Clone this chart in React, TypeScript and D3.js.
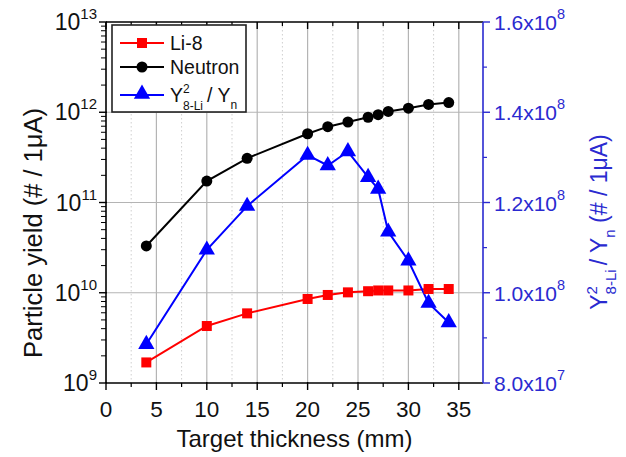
import React from "react";
import * as d3 from "d3";

// target thickness (mm)
const thickness = [4, 10, 14, 20, 22, 24, 26, 27, 28, 30, 32, 34];
// particle yield per 1 uA
const li8Yield = [1.69e9, 4.28e9, 5.91e9, 8.53e9, 9.45e9, 1.01e10, 1.04e10, 1.06e10, 1.06e10, 1.06e10, 1.1e10, 1.1e10];
const neutronYield = [3.3e10, 1.73e11, 3.09e11, 5.78e11, 6.92e11, 7.8e11, 8.8e11, 9.4e11, 1.02e12, 1.11e12, 1.22e12, 1.28e12];
// Y^2(8-Li) / Yn  (right axis)
const ratio = [0.886e8, 1.095e8, 1.192e8, 1.305e8, 1.282e8, 1.313e8, 1.256e8, 1.23e8, 1.135e8, 1.071e8, 0.977e8, 0.934e8];

const xTicks = [0, 5, 10, 15, 20, 25, 30, 35];
const xMinor = [2.5, 7.5, 12.5, 17.5, 22.5, 27.5, 32.5];
const leftExp = [9, 10, 11, 12, 13];
const rightTicks = [0.8e8, 1.0e8, 1.2e8, 1.4e8, 1.6e8];
const rightMinor = [0.9e8, 1.1e8, 1.3e8, 1.5e8];
const rightLabels = ["8.0x10", "1.0x10", "1.2x10", "1.4x10", "1.6x10"];
const rightLabelExp = ["7", "8", "8", "8", "8"];

const W = 626;
const H = 457;
const m = { left: 106, right: 483, top: 22, bottom: 383 };
const FONT = "'Liberation Sans', Arial, sans-serif";
const BLUE = "#0000ff";
const AXBLUE = "#2a2ad0";

export default function App() {
  const x = d3.scaleLinear().domain([0, 37.4]).range([m.left, m.right]);
  const yL = d3.scaleLog().domain([1e9, 1e13]).range([m.bottom, m.top]);
  const yR = d3.scaleLinear().domain([0.8e8, 1.6e8]).range([m.bottom, m.top]);

  const li8 = thickness.map((t, i) => [t, li8Yield[i]] as [number, number]);
  const neu = thickness.map((t, i) => [t, neutronYield[i]] as [number, number]);
  const rat = thickness.map((t, i) => [t, ratio[i]] as [number, number]);

  const lineL = d3.line<[number, number]>().x(d => x(d[0])).y(d => yL(d[1]));
  const lineR = d3.line<[number, number]>().x(d => x(d[0])).y(d => yR(d[1]));

  const leftMinor: number[] = [];
  for (let e = 9; e < 13; e++) for (let k = 2; k <= 9; k++) leftMinor.push(k * Math.pow(10, e));

  const tri = d3.symbol().type(d3.symbolTriangle).size(115)() as string;

  return (
    <svg width={W} height={H} style={{ position: "absolute", left: 0, top: 0, background: "#fff" }} fontFamily={FONT}>
      {/* grid */}
      {xMinor.map(t => (
        <line key={"gm" + t} x1={x(t)} x2={x(t)} y1={m.top} y2={m.bottom} stroke="#cfcfcf" strokeWidth={1} strokeDasharray="1.5,2.5" />
      ))}
      {xTicks.slice(1).map(t => (
        <line key={"gx" + t} x1={x(t)} x2={x(t)} y1={m.top} y2={m.bottom} stroke="#b4b4b4" strokeWidth={1.2} />
      ))}
      {leftExp.slice(1, 4).map(e => (
        <line key={"gy" + e} x1={m.left} x2={m.right} y1={yL(Math.pow(10, e))} y2={yL(Math.pow(10, e))} stroke="#b4b4b4" strokeWidth={1.2} />
      ))}

      {/* axes frame */}
      <line x1={m.left} x2={m.right} y1={m.top} y2={m.top} stroke="#000" strokeWidth={1.6} />
      <line x1={m.left} x2={m.right} y1={m.bottom} y2={m.bottom} stroke="#000" strokeWidth={1.6} />
      <line x1={m.left} x2={m.left} y1={m.top} y2={m.bottom} stroke="#000" strokeWidth={1.6} />
      <line x1={m.right} x2={m.right} y1={m.top} y2={m.bottom} stroke={AXBLUE} strokeWidth={1.6} />

      {/* bottom / top ticks */}
      {xTicks.map(t => (
        <g key={"xt" + t}>
          <line x1={x(t)} x2={x(t)} y1={m.bottom - 1} y2={m.bottom + 7} stroke="#000" strokeWidth={1.4} />
          <line x1={x(t)} x2={x(t)} y1={m.top} y2={m.top + 7} stroke="#000" strokeWidth={1.4} />
          <text x={x(t)} y={m.bottom + 34} textAnchor="middle" fontSize={22.5} fill="#111">{t}</text>
        </g>
      ))}
      {xMinor.map(t => (
        <g key={"xm" + t}>
          <line x1={x(t)} x2={x(t)} y1={m.bottom} y2={m.bottom + 4} stroke="#000" strokeWidth={1.2} />
          <line x1={x(t)} x2={x(t)} y1={m.top} y2={m.top + 4} stroke="#000" strokeWidth={1.2} />
        </g>
      ))}

      {/* left ticks */}
      {leftExp.map(e => (
        <g key={"yl" + e}>
          <line x1={m.left - 7} x2={m.left + 1} y1={yL(Math.pow(10, e))} y2={yL(Math.pow(10, e))} stroke="#000" strokeWidth={1.4} />
          <text x={m.left - 9} y={yL(Math.pow(10, e)) + 8} textAnchor="end" fontSize={23} fill="#111">
            10<tspan dy={-11} fontSize={15}>{e}</tspan>
          </text>
        </g>
      ))}
      {leftMinor.map(v => (
        <line key={"ylm" + v} x1={m.left - 5} x2={m.left} y1={yL(v)} y2={yL(v)} stroke="#000" strokeWidth={1} />
      ))}

      {/* right ticks */}
      {rightTicks.map((v, i) => (
        <g key={"yr" + v}>
          <line x1={m.right} x2={m.right + 7} y1={yR(v)} y2={yR(v)} stroke={AXBLUE} strokeWidth={1.4} />
          <text x={m.right + 11} y={yR(v) + 8} fontSize={21} fill={AXBLUE}>
            {rightLabels[i]}<tspan dy={-11} fontSize={14.5}>{rightLabelExp[i]}</tspan>
          </text>
        </g>
      ))}
      {rightMinor.map(v => (
        <line key={"yrm" + v} x1={m.right} x2={m.right + 4} y1={yR(v)} y2={yR(v)} stroke={AXBLUE} strokeWidth={1.2} />
      ))}

      {/* series */}
      <path d={lineL(li8) || ""} fill="none" stroke="#ff0000" strokeWidth={2} />
      <path d={lineL(neu) || ""} fill="none" stroke="#000" strokeWidth={2} />
      <path d={lineR(rat) || ""} fill="none" stroke={BLUE} strokeWidth={2} />
      {li8.map(d => (
        <rect key={"r" + d[0]} x={x(d[0]) - 5} y={yL(d[1]) - 5} width={10} height={10} fill="#ff0000" />
      ))}
      {neu.map(d => (
        <circle key={"c" + d[0]} cx={x(d[0])} cy={yL(d[1])} r={5.5} fill="#000" />
      ))}
      {rat.map(d => (
        <path key={"t" + d[0]} d={tri} transform={`translate(${x(d[0])},${yR(d[1])})`} fill={BLUE} />
      ))}

      {/* legend */}
      <rect x={112} y={25} width={134} height={87} fill="#fff" stroke="#222" strokeWidth={1.6} />
      <line x1={120} x2={164} y1={43} y2={43} stroke="#ff0000" strokeWidth={2} />
      <rect x={137} y={38} width={10} height={10} fill="#ff0000" />
      <text x={170} y={50} fontSize={19.5} fill="#111">Li-8</text>
      <line x1={120} x2={164} y1={67} y2={67} stroke="#000" strokeWidth={2} />
      <circle cx={142} cy={67} r={5.5} fill="#000" />
      <text x={170} y={74} fontSize={19.5} fill="#111">Neutron</text>
      <line x1={120} x2={164} y1={95} y2={95} stroke={BLUE} strokeWidth={2} />
      <path d={tri} transform="translate(142,94)" fill={BLUE} />
      <text x={170} y={102} fontSize={19.5} fill="#111">
        Y<tspan dy={-9} fontSize={12}>2</tspan>
        <tspan dx={-6.7} dy={17} fontSize={12}>8-Li</tspan>
        <tspan dx={4} dy={-8} fontSize={19.5}>/ Y</tspan>
        <tspan dy={7} fontSize={12}>n</tspan>
      </text>

      {/* axis titles */}
      <text x={(m.left + m.right) / 2} y={447} textAnchor="middle" fontSize={24} fill="#111">Target thickness (mm)</text>
      <text transform="translate(42,233) rotate(-90)" textAnchor="middle" fontSize={25.5} fill="#111">Particle yield (# / 1μA)</text>
      <text transform="translate(607,222) rotate(-90)" textAnchor="middle" fontSize={23} fill={AXBLUE}>
        Y<tspan dy={-10} fontSize={15}>2</tspan>
        <tspan dx={-8.3} dy={19} fontSize={15}>8-Li</tspan>
        <tspan dx={4} dy={-9} fontSize={23}>/ Y</tspan>
        <tspan dy={8} fontSize={15}>n</tspan>
        <tspan dy={-8} fontSize={23}> (# / 1μA)</tspan>
      </text>
    </svg>
  );
}
